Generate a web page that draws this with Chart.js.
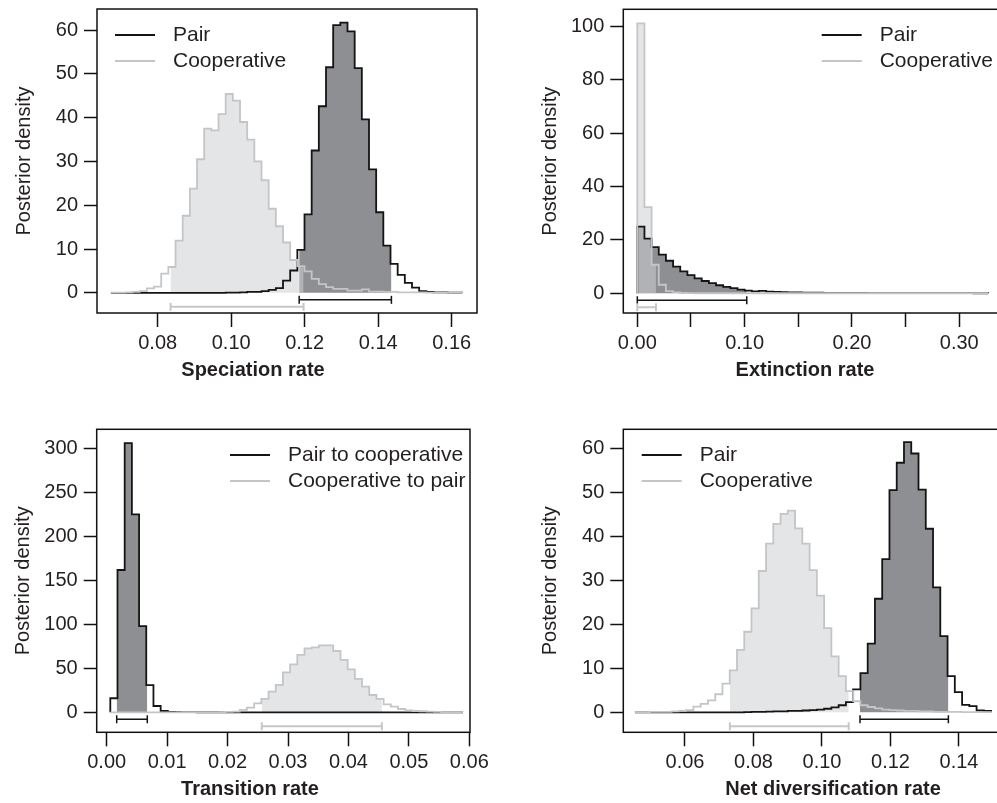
<!DOCTYPE html>
<html><head><meta charset="utf-8">
<script src="https://cdn.jsdelivr.net/npm/chart.js@4.4.0/dist/chart.umd.min.js"></script>
<style>
html,body{margin:0;padding:0;background:#fff;overflow:hidden;width:997px;height:803px;position:relative;}
canvas{position:absolute;}
</style></head><body>
<canvas id="p1"></canvas><canvas id="p2"></canvas><canvas id="p3"></canvas><canvas id="p4"></canvas>
<script>
// ---------------- DATA ----------------
// Speciation rate
const speciationBinStart = 0.0673, speciationBinWidth = 0.00195;
const speciationPair = [0,0,0,0,0,0,0,0,0,0,0,0,0,0,0,0,0.05,0.05,0.1,0.2,0.2,0.4,0.7,1.1,2.8,5.1,9.8,17.9,32.5,42.6,51.5,61.1,61.7,59.7,51.3,39.6,28.2,18.4,10.8,6.6,4.1,2.3,1.2,0.4,0.2,0.1,0.1,0.05,0.05];
const speciationCoop = [0.05,0.05,0.1,0.2,0.4,1.0,1.4,4.4,5.9,11.9,17.6,23.8,30.5,37.5,37.1,40.8,45.4,43.9,39.0,35.0,30.0,25.7,19.2,15.2,11.5,7.5,6.1,4.9,3.2,2.0,1.3,0.9,0.9,0.5,0.5,0.8,0.3,0.3,0.2,0.2,0.1,0.1,0.1,0.1,0.05,0.05,0.05,0.05,0.05];
const speciationHpdPair = [0.1185, 0.1436];
const speciationHpdCoop = [0.0835, 0.1197];
const speciationXTicks = [0.08, 0.10, 0.12, 0.14, 0.16];
const speciationYTicks = [0, 10, 20, 30, 40, 50, 60];

// Extinction rate
const extinctionBinStart = 0, extinctionBinWidth = 0.00667;
const extinctionPair = [25.0,20.5,17.3,14.5,12.2,10.0,8.2,6.8,5.6,4.6,3.8,3.0,2.4,1.9,1.4,1.0,0.7,0.9,0.6,0.5,0.4,0.3,0.3,0.25,0.2,0.2,0.15,0.15,0.1,0.1,0.1,0.1,0.08,0.08,0.06,0.06,0.05,0.05,0.04,0.04,0.03,0.03,0.03,0.02,0.02,0.02,0.02,0.01,0.01];
const extinctionCoop = [101.2,32.3,10.7,3.2,0.8,0.3,0.1,0.05,0,0,0,0,0,0,0,0,0,0,0,0,0,0,0,0,0,0,0,0,0,0,0,0,0,0,0,0,0,0,0,0,0,0,0,0,0,0,0,0,0];
const extinctionHpdPair = [0, 0.102];
const extinctionHpdCoop = [0, 0.0174];
const extinctionXTicks = [0, 0.05, 0.10, 0.15, 0.20, 0.25, 0.30];
const extinctionXLabels = ['0.00', '', '0.10', '', '0.20', '', '0.30'];
const extinctionYTicks = [0, 20, 40, 60, 80, 100];

// Transition rate
const transitionBinStart = 0.0006, transitionBinWidth = 0.00119;
const transitionPair = [16,161.7,306,225,98,31,7.2,1.5,0.5,0.3,0.2,0.2,0.1,0.1,0.1,0.05,0,0,0,0,0,0,0,0,0,0,0,0,0,0,0,0,0,0,0,0,0,0,0,0,0,0,0,0,0,0,0,0,0];
const transitionCoop = [0,0,0,0,0,0,0,0,0,0,0.1,0.1,0.2,0.2,0.3,0.3,0.5,0.8,2.7,5.3,10.2,15.2,23.5,31.1,45.5,54.5,65.2,72.7,73.9,76.1,76.1,69.7,59.5,48.9,37.9,29.2,19.7,15.2,9.1,6.4,3.8,2.3,1.5,1.2,0.8,0.6,0.3,0.2,0.1];
const transitionHpdPair = [0.00166, 0.00672];
const transitionHpdCoop = [0.02566, 0.04553];
const transitionXTicks = [0, 0.01, 0.02, 0.03, 0.04, 0.05, 0.06];
const transitionYTicks = [0, 50, 100, 150, 200, 250, 300];

// Net diversification rate
const netDivBinStart = 0.0455, netDivBinWidth = 0.00212;
const netDivPair = [0,0,0,0,0,0,0,0,0,0,0,0,0,0,0,0.05,0.1,0.1,0.15,0.2,0.2,0.3,0.3,0.4,0.5,0.6,0.8,1.1,1.6,2.3,5.2,8.9,15.6,25.8,34.8,50.5,56.7,61.4,58.8,50.6,41.7,28.4,17.3,8.2,4.6,1.7,1.4,0.4,0.3];
const netDivCoop = [0.05,0.05,0.1,0.1,0.1,0.2,0.3,0.5,1.3,1.9,2.7,4.1,6.5,9.5,14.2,18.3,23.6,32.1,38.3,42.8,45.1,45.8,41.8,38.3,32.3,26.5,19.1,12.7,8.2,4.8,2.5,1.6,1.2,0.9,0.6,0.5,0.4,0.3,0.3,0.2,0.2,0.1,0.1,0.1,0.1,0.05,0.05,0.05,0.05];
const netDivHpdPair = [0.1111, 0.1369];
const netDivHpdCoop = [0.0731, 0.1078];
const netDivXTicks = [0.06, 0.08, 0.10, 0.12, 0.14];
const netDivYTicks = [0, 10, 20, 30, 40, 50, 60];

// ---------------- STYLE ----------------
const FONT = '"Liberation Sans", Arial, Helvetica, sans-serif';
const TEXT = '#231f20';
const PAIR_LINE = '#141414';
const COOP_LINE = '#c4c5c7';
const PAIR_FILL = '#8e8f92';
const COOP_FILL = 'rgba(206,207,211,0.55)';

Chart.defaults.font.family = FONT;
Chart.defaults.font.size = 20;
Chart.defaults.color = TEXT;

function binEdges(start, width, n) {
  const e = [];
  for (let i = 0; i <= n; i++) e.push(start + i * width);
  return e;
}
function outline(start, width, vals) {
  const e = binEdges(start, width, vals.length);
  const pts = [{x: e[0], y: 0}];
  vals.forEach((v, i) => pts.push({x: e[i], y: v}));
  pts.push({x: e[vals.length], y: vals[vals.length - 1]});
  pts.push({x: e[vals.length], y: 0});
  return pts;
}
function hpdArea(start, width, vals, lo, hi) {
  const e = binEdges(start, width, vals.length);
  const iLo = Math.max(0, Math.floor((lo - start) / width));
  const iHi = Math.min(vals.length - 1, Math.floor((hi - start) / width));
  const pts = [{x: lo, y: vals[iLo]}];
  for (let k = iLo + 1; k <= iHi; k++) pts.push({x: e[k], y: vals[k]});
  pts.push({x: hi, y: vals[iHi]});
  return pts;
}

const decor = {
  id: 'decor',
  afterDraw(chart, args, o) {
    const {ctx, chartArea: a} = chart;
    ctx.save();
    ctx.strokeStyle = '#111';
    ctx.lineWidth = 1.5;
    ctx.strokeRect(a.left, a.top, a.right - a.left, a.bottom - a.top);
    // legend
    ctx.font = '21px ' + FONT;
    ctx.textBaseline = 'middle';
    ctx.textAlign = 'left';
    o.legend.forEach((it, i) => {
      const y = o.legendY + i * 26;
      ctx.strokeStyle = it.color;
      ctx.lineWidth = 2;
      ctx.beginPath();
      ctx.moveTo(o.legendX, y);
      ctx.lineTo(o.legendX + 40, y);
      ctx.stroke();
      ctx.fillStyle = TEXT;
      ctx.fillText(it.text, o.legendX + 58, y);
    });
    // x title
    ctx.font = 'bold 20px ' + FONT;
    ctx.textAlign = 'center';
    ctx.fillText(o.xTitle, o.xTitleX, a.bottom + 57);
    // y title
    ctx.font = '20px ' + FONT;
    ctx.translate(a.left - 73, (a.top + a.bottom) / 2);
    ctx.rotate(-Math.PI / 2);
    ctx.fillText('Posterior density', 0, 0);
    ctx.restore();
  }
};

function makePanel(id, page, area, p) {
  const cv = document.getElementById(id);
  cv.width = page.w; cv.height = page.h;
  cv.style.left = page.left + 'px'; cv.style.top = page.top + 'px';
  cv.style.width = page.w + 'px'; cv.style.height = page.h + 'px';
  const pxPerUnit = (area.b - area.t) / (p.yMax - p.yMin);
  const yPairBar = -7 / pxPerUnit, yCoopBar = -14 / pxPerUnit;
  const zeroPad = s => { s.paddingTop = 0; s.paddingBottom = 0; s.paddingLeft = 0; s.paddingRight = 0; };
  const bar = (lo, hi, y, color, w) => ({
    data: [{x: lo, y: y}, {x: hi, y: y}],
    borderColor: color, borderWidth: w, fill: false,
    pointStyle: 'line', pointRotation: 90, pointRadius: 4, pointBorderWidth: w,
    pointBorderColor: color, pointBackgroundColor: color
  });
  new Chart(cv, {
    type: 'line',
    data: {
      datasets: [
        Object.assign(bar(p.hpdCoop[0], p.hpdCoop[1], yCoopBar, '#c6c7c9', 2), {order: 1}),
        Object.assign(bar(p.hpdPair[0], p.hpdPair[1], yPairBar, PAIR_LINE, 1.5), {order: 2}),
        {data: outline(p.start, p.width, p.coop), stepped: 'before', fill: false,
         borderColor: COOP_LINE, borderWidth: 1.8, pointRadius: 0, order: 3},
        {data: outline(p.start, p.width, p.pair), stepped: 'before', fill: false,
         borderColor: PAIR_LINE, borderWidth: 1.8, pointRadius: 0, order: 4},
        {data: hpdArea(p.start, p.width, p.coop, p.hpdCoop[0], p.hpdCoop[1]), stepped: 'before',
         fill: 'origin', backgroundColor: COOP_FILL, borderColor: 'rgba(0,0,0,0)', borderWidth: 0, pointRadius: 0, order: 5},
        {data: hpdArea(p.start, p.width, p.pair, p.hpdPair[0], p.hpdPair[1]), stepped: 'before',
         fill: 'origin', backgroundColor: PAIR_FILL, borderColor: 'rgba(0,0,0,0)', borderWidth: 0, pointRadius: 0, order: 6}
      ]
    },
    options: {
      responsive: false, animation: false, devicePixelRatio: 1, events: [],
      layout: {padding: {left: 0, top: area.t, right: page.w - area.r, bottom: 0}},
      plugins: {legend: {display: false}, tooltip: {enabled: false},
        decor: {legend: p.legend, legendX: p.legendX, legendY: p.legendY, xTitle: p.xTitle, xTitleX: p.xTitleX}},
      scales: {
        x: {
          type: 'linear', min: p.xMin, max: p.xMax, offset: false,
          border: {display: false},
          grid: {display: true, drawOnChartArea: false, drawTicks: true, tickLength: 14, tickWidth: 1.5, tickColor: '#111'},
          ticks: {autoSkip: false, maxRotation: 0, padding: 4, color: TEXT, font: {size: 20},
                  callback: (v, i) => p.xLabels ? p.xLabels[i] : Number(v).toFixed(2)},
          afterBuildTicks: s => { s.ticks = p.xTicks.map(v => ({value: v})); },
          afterFit: s => { s.height = page.h - area.b; zeroPad(s); }
        },
        y: {
          type: 'linear', min: p.yMin, max: p.yMax,
          border: {display: false},
          grid: {display: true, drawOnChartArea: false, drawTicks: true, tickLength: 13, tickWidth: 1.5, tickColor: '#111'},
          ticks: {autoSkip: false, padding: 6, color: TEXT, font: {size: 20}, callback: v => String(v)},
          afterBuildTicks: s => { s.ticks = p.yTicks.map(v => ({value: v})); },
          afterFit: s => { s.width = area.l; zeroPad(s); }
        }
      }
    },
    plugins: [decor]
  });
}

makePanel('p1', {left: 0, top: 0, w: 500, h: 400}, {l: 97, t: 9, r: 477, b: 313}, {
  start: speciationBinStart, width: speciationBinWidth, pair: speciationPair, coop: speciationCoop,
  hpdPair: speciationHpdPair, hpdCoop: speciationHpdCoop,
  xMin: 0.06348, xMax: 0.16689, yMin: -4.6, yMax: 64.8,
  xTicks: speciationXTicks, yTicks: speciationYTicks,
  legend: [{text: 'Pair', color: PAIR_LINE}, {text: 'Cooperative', color: COOP_LINE}],
  legendX: 115, legendY: 35, xTitle: 'Speciation rate', xTitleX: 253
});
makePanel('p2', {left: 520, top: 0, w: 496, h: 400}, {l: 103.3, t: 9.3, r: 481, b: 313}, {
  start: extinctionBinStart, width: extinctionBinWidth, pair: extinctionPair, coop: extinctionCoop,
  hpdPair: extinctionHpdPair, hpdCoop: extinctionHpdCoop,
  xMin: -0.01304, xMax: 0.3389, yMin: -7.4, yMax: 106.5,
  xTicks: extinctionXTicks, xLabels: extinctionXLabels, yTicks: extinctionYTicks,
  legend: [{text: 'Pair', color: PAIR_LINE}, {text: 'Cooperative', color: COOP_LINE}],
  legendX: 301.7, legendY: 35, xTitle: 'Extinction rate', xTitleX: 285
});
makePanel('p3', {left: 0, top: 420, w: 500, h: 400}, {l: 96.7, t: 9.3, r: 470, b: 312.3}, {
  start: transitionBinStart, width: transitionBinWidth, pair: transitionPair, coop: transitionCoop,
  hpdPair: transitionHpdPair, hpdCoop: transitionHpdCoop,
  xMin: -0.00165, xMax: 0.06011, yMin: -22.7, yMax: 321.6,
  xTicks: transitionXTicks, yTicks: transitionYTicks,
  legend: [{text: 'Pair to cooperative', color: PAIR_LINE}, {text: 'Cooperative to pair', color: COOP_LINE}],
  legendX: 230, legendY: 35, xTitle: 'Transition rate', xTitleX: 250
});
makePanel('p4', {left: 520, top: 420, w: 496, h: 400}, {l: 103.3, t: 9.3, r: 489, b: 312.3}, {
  start: netDivBinStart, width: netDivBinWidth, pair: netDivPair, coop: netDivCoop,
  hpdPair: netDivHpdPair, hpdCoop: netDivHpdCoop,
  xMin: 0.04199, xMax: 0.1546, yMin: -4.55, yMax: 64.3,
  xTicks: netDivXTicks, yTicks: netDivYTicks,
  legend: [{text: 'Pair', color: PAIR_LINE}, {text: 'Cooperative', color: COOP_LINE}],
  legendX: 121.7, legendY: 35, xTitle: 'Net diversification rate', xTitleX: 313
});
</script>
</body></html>
